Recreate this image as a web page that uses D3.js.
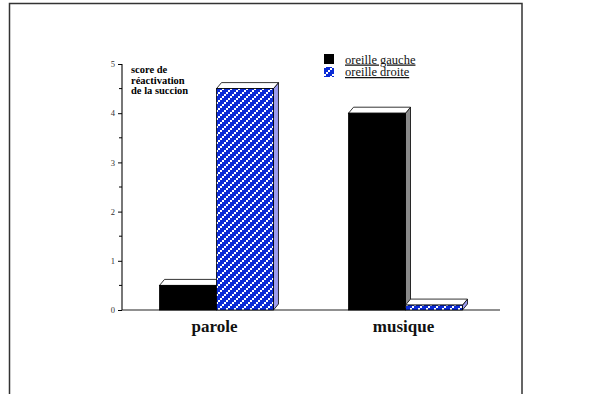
<!DOCTYPE html>
<html>
<head>
<meta charset="utf-8">
<script src="https://cdn.jsdelivr.net/npm/d3@7"></script>
<style>
  html, body { margin: 0; padding: 0; background: #fff; }
  svg { display: block; }
</style>
</head>
<body>
<svg id="chart" width="600" height="394"></svg>
<script>
// Data
const categories = ["parole", "musique"];
const seriesNames = ["oreille gauche", "oreille droite"];
const gaucheValues = [0.5, 4.0];
const droiteValues = [4.5, 0.1];
const yTicks = [0, 1, 2, 3, 4, 5];
const yMinorTicks = [0.5, 1.5, 2.5, 3.5, 4.5];
const yTitleLines = ["score de", "réactivation", "de la succion"];

const svg = d3.select("#chart");
const serif = "'Liberation Serif', 'Times New Roman', serif";

// Frame around the chart
svg.append("rect")
  .attr("x", 9.5).attr("y", 3.5)
  .attr("width", 512.5).attr("height", 420)
  .attr("fill", "none").attr("stroke", "#333").attr("stroke-width", 1.5);

// Hatched blue fill
const defs = svg.append("defs");
const pat = defs.append("pattern")
  .attr("id", "bluePat").attr("patternUnits", "userSpaceOnUse")
  .attr("width", 8).attr("height", 8);
pat.append("rect").attr("width", 8).attr("height", 8).attr("fill", "#0b2bd6");
[[0, 6], [2, 4], [4, 2], [6, 0]].forEach(([px, py]) => {
  pat.append("rect").attr("x", px).attr("y", py).attr("width", 2).attr("height", 2).attr("fill", "#fff");
});

// Scales
const x0 = d3.scaleBand().domain(categories).range([122, 500])
  .paddingInner(0.397).paddingOuter(0.1985);
const x1 = d3.scaleBand().domain(seriesNames).range([0, x0.bandwidth()]);
const y = d3.scaleLinear().domain([0, 5]).range([310, 64]);

// Y axis
const yAxis = d3.axisLeft(y).tickValues(yTicks).tickSize(4).tickPadding(3)
  .tickFormat(d3.format("d"));
const gy = svg.append("g").attr("transform", "translate(122,0)").call(yAxis);
gy.select(".domain").attr("stroke", "#777").attr("stroke-width", 2)
  .attr("d", `M0,${y(5)}V${y(0)}`);
gy.selectAll(".tick line").attr("stroke", "#000");
gy.selectAll(".tick text").attr("font-family", serif).attr("font-size", 8.5)
  .attr("fill", "#333");
gy.selectAll(".minor").data(yMinorTicks).enter().append("line")
  .attr("x1", -3).attr("x2", 0)
  .attr("y1", d => y(d)).attr("y2", d => y(d))
  .attr("stroke", "#000");

// Baseline
svg.append("line")
  .attr("x1", 122).attr("x2", 500).attr("y1", y(0)).attr("y2", y(0))
  .attr("stroke", "#222").attr("stroke-width", 1.2);

// Y title
svg.selectAll(".ytitle").data(yTitleLines).enter().append("text")
  .attr("x", 131).attr("y", (d, i) => 73 + i * 10.5)
  .style("font-family", serif).style("font-size", "10.5px").style("font-weight", "bold")
  .attr("fill", "#000")
  .text(d => d);

// 3D bars
const dx = 5, dy = 6;
const fills = { "oreille gauche": "#000", "oreille droite": "url(#bluePat)" };
const sides = { "oreille gauche": "#8a8a8a", "oreille droite": "#9c9cf0" };

const bars = [];
categories.forEach((c, i) => {
  bars.push({ cat: c, s: seriesNames[0], v: gaucheValues[i] });
  bars.push({ cat: c, s: seriesNames[1], v: droiteValues[i] });
});

bars.forEach(b => {
  const xl = x0(b.cat) + x1(b.s);
  const xr = xl + x1.bandwidth();
  const yt = y(b.v), yb = y(0);
  const g = svg.append("g");
  // right side face
  g.append("path")
    .attr("d", `M${xr},${yb}L${xr + dx},${yb - dy}L${xr + dx},${yt - dy}L${xr},${yt}Z`)
    .attr("fill", sides[b.s]).attr("stroke", "#000").attr("stroke-width", 0.8);
  // top face
  g.append("path")
    .attr("d", `M${xl},${yt}L${xl + dx},${yt - dy}L${xr + dx},${yt - dy}L${xr},${yt}Z`)
    .attr("fill", "#fff").attr("stroke", "#000").attr("stroke-width", 0.8);
  // front face
  g.append("rect")
    .attr("x", xl).attr("y", yt).attr("width", xr - xl).attr("height", yb - yt)
    .attr("fill", fills[b.s]).attr("stroke", "#000").attr("stroke-width", 0.8);
});

// Category labels
svg.selectAll(".cat").data(categories).enter().append("text")
  .attr("x", d => x0(d) + x0.bandwidth() / 2 - 2)
  .attr("y", 332)
  .attr("text-anchor", "middle")
  .attr("font-family", serif).attr("font-size", 17).attr("font-weight", "bold")
  .attr("fill", "#111")
  .text(d => d);

// Legend
const legend = svg.append("g");
seriesNames.forEach((s, i) => {
  legend.append("rect")
    .attr("x", 324).attr("y", 54 + i * 13).attr("width", 10).attr("height", 10)
    .attr("fill", fills[s]);
  legend.append("text")
    .attr("x", 345).attr("y", 63.5 + i * 12.5)
    .attr("font-family", serif).attr("font-size", 12.5)
    .attr("fill", "#111").attr("text-decoration", "underline")
    .text(s);
});
</script>
</body>
</html>
